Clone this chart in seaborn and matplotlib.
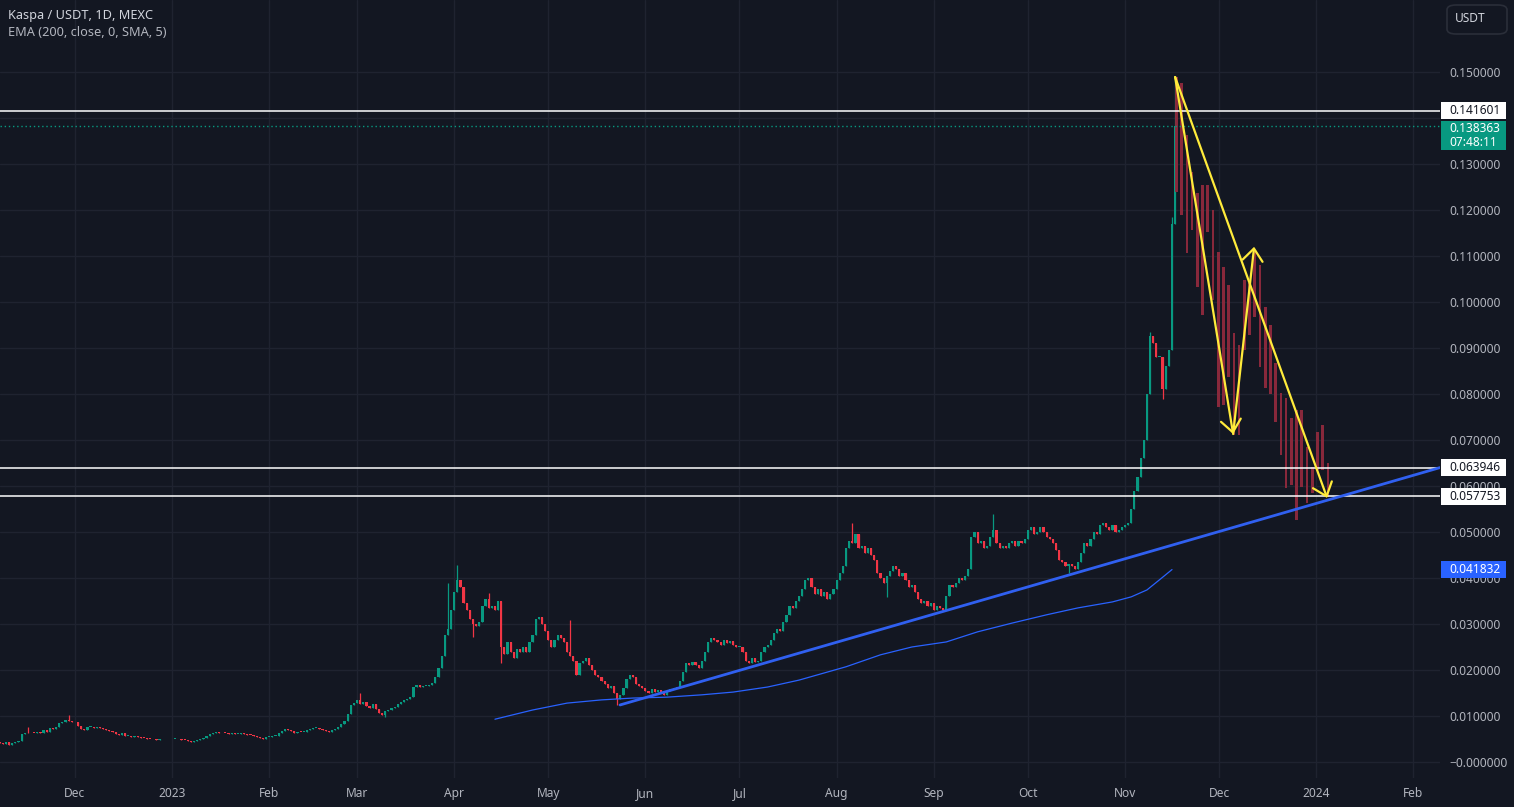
import numpy as np
import pandas as pd
import matplotlib
matplotlib.use("Agg")
import matplotlib.pyplot as plt
import matplotlib.dates as mdates
from matplotlib.patches import Rectangle, FancyBboxPatch
import seaborn as sns

# ---------------- data (prices in thousandths of a USDT) ----------------
START_DATE = "2022-11-07"
FIRST_OPEN = 4.4

close_nov22 = [4.2, 4.0, 4.3, 3.8, 4.1, 4.4, 4.5, 6.0, 6.4, 6.2, 6.4, 6.3, 6.5, 6.2, 7.0, 6.6,
               7.4, 7.2, 7.6, 8.4, 8.8, 9.2, 9.0, 8.8]
close_dec22 = [8.6, 7.9, 7.2, 7.0, 7.6, 7.7, 7.4, 7.5, 7.3, 7.1, 7.0, 6.8, 6.6, 6.0, 5.8, 6.2,
               5.6, 5.7, 5.5, 5.6, 5.4, 5.3, 5.2, 5.1, 5.0, 4.9, 4.8, 5.0, 4.9, 5.0, 4.9]
close_jan23 = [5.0, 5.1, 4.9, 4.8, 4.7, 4.5, 4.4, 4.6, 4.7, 5.0, 5.3, 5.6, 6.0, 6.3, 6.5, 6.2,
               6.4, 6.3, 6.1, 6.2, 6.0, 6.1, 6.3, 6.0, 5.9, 5.8, 5.6, 5.5, 5.3, 5.1, 5.4]
close_feb23 = [5.5, 5.6, 5.7, 6.2, 6.8, 7.2, 7.0, 6.7, 6.4, 6.6, 6.5, 6.6, 6.9, 7.1, 7.3, 7.4,
               7.2, 7.0, 6.8, 6.6, 7.0, 7.2, 7.5, 8.2, 9.0, 10.5, 12.4, 12.8]
close_mar23 = [13.5, 12.6, 13.0, 12.2, 11.8, 12.5, 11.6, 10.6, 10.2, 11.0, 11.2, 11.8, 12.0, 12.6,
               13.0, 13.4, 13.8, 14.2, 16.2, 16.8, 16.2, 16.5, 16.6, 16.8, 17.2, 18.5, 20.5, 23.0,
               27.5, 29.0, 33.0]
close_apr23 = [37.0, 39.5, 38.0, 34.5, 33.0, 31.0, 30.0, 29.5, 30.5, 34.0, 35.5, 33.5, 34.0, 33.0,
               35.0, 25.0, 23.5, 26.0, 24.0, 22.5, 24.5, 24.0, 25.0, 24.0, 26.0, 27.5, 31.0, 31.5,
               30.0, 28.5]
close_may23 = [26.5, 25.0, 26.5, 27.5, 27.0, 26.0, 24.0, 23.0, 22.0, 19.0, 21.5, 22.0, 22.5, 21.0,
               20.0, 19.0, 18.5, 17.5, 17.0, 16.0, 16.5, 15.0, 13.8, 14.5, 16.0, 18.0, 19.0, 18.5,
               17.0, 16.5, 16.0]
close_jun23 = [15.5, 15.0, 15.8, 15.2, 15.6, 15.0, 14.5, 15.5, 15.8, 16.0, 16.3, 17.5, 19.5, 21.5,
               21.0, 21.8, 21.0, 20.5, 22.0, 24.0, 26.0, 27.0, 26.5, 26.0, 25.5, 26.5, 25.8, 26.2,
               25.5, 25.0]
close_jul23 = [25.0, 24.0, 22.0, 21.5, 22.5, 21.8, 22.0, 24.0, 25.0, 25.5, 26.5, 28.0, 29.0, 28.5,
               30.5, 32.0, 34.0, 33.5, 35.0, 36.0, 37.5, 39.5, 40.0, 38.0, 36.5, 37.5, 36.0, 37.0,
               35.5, 36.5, 37.5]
close_aug23 = [39.5, 41.0, 42.5, 46.5, 48.0, 47.5, 49.5, 46.5, 47.0, 45.5, 46.5, 45.0, 44.0, 41.0,
               40.0, 39.0, 40.5, 41.5, 42.5, 42.0, 40.5, 41.0, 39.5, 38.0, 38.5, 37.0, 35.5, 34.5,
               35.0, 34.0, 34.5]
close_sep23 = [33.0, 34.0, 33.5, 33.0, 36.0, 38.5, 38.0, 39.0, 40.0, 39.5, 40.5, 42.0, 49.0, 50.0,
               47.5, 48.0, 46.5, 47.0, 49.0, 50.5, 47.5, 46.5, 47.0, 46.5, 47.5, 48.0, 47.0, 48.0,
               47.5, 48.5]
close_oct23 = [50.5, 51.0, 49.5, 50.0, 51.0, 50.0, 49.0, 48.5, 47.5, 46.0, 44.0, 43.5, 42.5, 43.0,
               42.5, 42.0, 43.5, 45.5, 47.5, 47.0, 48.5, 50.0, 49.5, 51.5, 52.0, 51.0, 50.5, 51.5,
               50.0, 50.5, 51.0]
close_nov23 = [51.5, 52.0, 55.0, 59.0, 62.0, 66.0, 70.0, 80.0, 92.5, 91.0, 88.0, 88.0, 81.0, 86.0,
               89.6, 117.0, 138.363]

# visible wick extremes (date -> value)
wick_high = {"2022-11-16": 7.6, "2022-11-29": 10.2, "2023-03-02": 15.0, "2023-03-30": 38.9,
             "2023-04-02": 42.8, "2023-04-12": 36.7, "2023-05-08": 30.9, "2023-08-06": 52.0,
             "2023-09-20": 54.0, "2023-11-09": 93.5, "2023-11-16": 118.5, "2023-11-17": 149.0}
wick_low = {"2023-03-10": 9.7, "2023-04-07": 27.2, "2023-04-16": 21.5, "2023-05-23": 12.4,
            "2023-08-17": 35.9, "2023-10-14": 41.0, "2023-11-13": 79.0}

# EMA(200)
ema_dates = ["2023-04-14", "2023-04-26", "2023-05-07", "2023-05-18", "2023-05-28", "2023-06-08",
             "2023-06-19", "2023-06-29", "2023-07-10", "2023-07-20", "2023-08-04", "2023-08-15",
             "2023-08-25", "2023-09-05", "2023-09-15", "2023-09-26", "2023-10-07", "2023-10-17",
             "2023-10-28", "2023-11-03", "2023-11-08", "2023-11-12", "2023-11-16"]
ema_vals = [9.3, 11.3, 12.8, 13.5, 13.9, 14.1, 14.6, 15.2, 16.3, 17.8, 20.7, 23.3, 25.0, 26.1,
            28.3, 30.2, 32.0, 33.5, 34.8, 35.9, 37.4, 39.6, 41.832]

# projected (bars pattern) bars: top / bottom
proj_top = [148.9, 147.6, 136.3, 128.3, 123.7, 125.4, 125.4, 120.0, 110.9, 107.6, 103.7, 93.3,
            90.7, 104.8, 104.1, 111.3, 108.0, 98.9, 95.0, 86.7, 80.2, 79.1, 74.8, 76.5, 76.5,
            68.5, 64.1, 71.7, 73.3, 65.0]
proj_bottom = [123.9, 118.9, 110.7, 115.7, 103.3, 97.2, 115.2, 100.4, 77.2, 77.6, 83.7, 71.1,
               71.1, 89.6, 92.8, 96.7, 85.9, 81.3, 80.0, 73.9, 66.7, 59.6, 60.2, 52.6, 59.8,
               56.3, 58.5, 63.5, 63.5, 57.6]

# drawings
trend_dates = ["2023-05-23 22:00", "2024-02-09 12:00"]
trend_vals = [12.4, 64.0]
hline_vals = [141.601, 63.946, 57.753]
last_price = 138.363
countdown = "07:48:11"
ema_last = 41.832
arrow_pts = {"P": ("2023-11-17 00:00", 148.9), "A": ("2023-12-05 12:00", 71.3),
             "B": ("2023-12-12 05:00", 112.0), "C": ("2024-01-04 12:00", 57.4)}
arrows = [("P", "A"), ("A", "B"), ("P", "C")]

month_ticks = ["2022-12-01", "2023-01-01", "2023-02-01", "2023-03-01", "2023-04-01", "2023-05-01",
               "2023-06-01", "2023-07-01", "2023-08-01", "2023-09-01", "2023-10-01", "2023-11-01",
               "2023-12-01", "2024-01-01", "2024-02-01"]
month_labels = ["Dec", "2023", "Feb", "Mar", "Apr", "May", "Jun", "Jul", "Aug", "Sep", "Oct",
                "Nov", "Dec", "2024", "Feb"]
y_ticks_milli = [0, 10, 20, 30, 40, 50, 60, 70, 80, 90, 100, 110, 120, 130, 140, 150]
hidden_tick_milli = [140]  # covered by the price-scale labels in the chart
title_line1 = "Kaspa / USDT, 1D, MEXC"
title_line2 = "EMA (200, close, 0, SMA, 5)"
currency = "USDT"

# ---------------- styling ----------------
BG = "#131722"
GRID = "#1f2330"
UP = "#089981"
DOWN = "#f23645"
GHOST = "#8f2a3d"
YELLOW = "#ffeb3b"
BLUE = "#2962ff"
TXT = "#b2b5be"

sns.set_theme(style="dark", rc={"axes.facecolor": BG, "figure.facecolor": BG})
plt.rcParams["font.family"] = ["Noto Sans", "DejaVu Sans"]
FS = 8.6

W, H = 1514, 807
fig = plt.figure(figsize=(W / 100, H / 100), dpi=100)
ax = fig.add_axes([0, (H - 778) / H, 1440 / W, 778 / H])
ax.set_facecolor(BG)

S = 0.001
close = np.concatenate([close_nov22, close_dec22, close_jan23, close_feb23, close_mar23,
                        close_apr23, close_may23, close_jun23, close_jul23, close_aug23,
                        close_sep23, close_oct23, close_nov23]) * S
dates = pd.date_range(START_DATE, periods=len(close), freq="D")
xs = mdates.date2num(dates)
opens = np.r_[FIRST_OPEN * S, close[:-1]]
highs = np.maximum(opens, close).copy()
lows = np.minimum(opens, close).copy()
idx = {d.strftime("%Y-%m-%d"): i for i, d in enumerate(dates)}
for k, v in wick_high.items():
    highs[idx[k]] = max(highs[idx[k]], v * S)
for k, v in wick_low.items():
    lows[idx[k]] = min(lows[idx[k]], v * S)

up = close >= opens
cols = np.where(up, UP, DOWN)
ax.vlines(xs, lows, highs, colors=cols, lw=0.9, zorder=3)
body_h = np.maximum(np.abs(close - opens), 0.00020)
ax.bar(xs, body_h, bottom=np.minimum(opens, close), width=0.7, color=cols,
       linewidth=0, zorder=4)

# EMA
ema_x = mdates.date2num(pd.to_datetime(ema_dates))
sns.lineplot(x=ema_x, y=np.array(ema_vals) * S, ax=ax, color=BLUE, lw=0.9, zorder=5)

# ghost bars
x0 = mdates.date2num(pd.Timestamp("2023-11-17 10:00"))
step = 1.666
px = x0 + step * np.arange(len(proj_top))
pt = np.array(proj_top) * S
pb = np.array(proj_bottom) * S
ax.bar(px, pt - pb, bottom=pb, width=0.85, color=GHOST, linewidth=0, alpha=0.95, zorder=4)

# horizontal levels
for v in hline_vals:
    ax.axhline(v * S, color="white", lw=1.1, zorder=6)
ax.axhline(last_price * S, color=UP, lw=1.0, ls=(0, (1, 2)), zorder=6)

# trendline
tx = mdates.date2num(pd.to_datetime(trend_dates))
sns.lineplot(x=tx, y=np.array(trend_vals) * S, ax=ax, color="#3060f0", lw=2.0, zorder=7)

# arrows
def pt_of(k):
    d, v = arrow_pts[k]
    return (mdates.date2num(pd.Timestamp(d)), v * S)

for a, b in arrows:
    ax.annotate("", xy=pt_of(b), xytext=pt_of(a),
                arrowprops=dict(arrowstyle="->,head_length=0.55,head_width=0.45",
                                color=YELLOW, lw=1.6, shrinkA=0, shrinkB=0,
                                mutation_scale=16), zorder=8)

# axes limits
ref = pd.Timestamp("2022-12-01")
ax.set_xlim(mdates.date2num(ref - pd.Timedelta(days=23.9)),
            mdates.date2num(ref + pd.Timedelta(days=435.5)))
ax.set_ylim(-3.48 * S, 165.65 * S)

# ticks
def ylab(t):
    if t in hidden_tick_milli:
        return ""
    if t == 0:
        return "\u22120.000000"
    return f"{t * S:.6f}"

ax.yaxis.tick_right()
ax.set_yticks(np.array(y_ticks_milli) * S)
ax.set_yticklabels([ylab(t) for t in y_ticks_milli])
ax.set_xticks(mdates.date2num(pd.to_datetime(month_ticks)))
ax.set_xticklabels(month_labels)
ax.tick_params(axis="y", length=0, pad=6.5, labelsize=FS, labelcolor=TXT)
ax.tick_params(axis="x", length=0, pad=6.5, labelsize=FS, labelcolor=TXT)
ax.grid(True, color=GRID, lw=1.0)
ax.set_axisbelow(True)
for s in ax.spines.values():
    s.set_visible(False)

# labels on price scale
fig.canvas.draw()

def ypix(v):
    # figure pixel y (from bottom) of data value v
    return ax.transData.transform((0, v))[1]

def scale_box(v, text, fc, tc, bold=False, h=17):
    yc = ypix(v)
    fig.patches.append(Rectangle((1441 / W, (yc - h / 2) / H), 65 / W, h / H,
                                 transform=fig.transFigure, facecolor=fc, edgecolor="none",
                                 zorder=20))
    fig.text(1449 / W, yc / H, text, color=tc, fontsize=FS, va="center",
             ha="left", fontweight="bold" if bold else "normal", zorder=21)

scale_box(hline_vals[0] * S, f"{hline_vals[0] * S:.6f}", "white", BG)
scale_box(hline_vals[1] * S, f"{hline_vals[1] * S:.6f}", "white", BG)
scale_box(hline_vals[2] * S, f"{hline_vals[2] * S:.6f}", "white", BG)
scale_box(ema_last * S, f"{ema_last * S:.6f}", BLUE, "white", bold=True)

# last price box (two lines)
yc = ypix(last_price * S)
top = yc + 5
fig.patches.append(Rectangle((1441 / W, (top - 29) / H), 65 / W, 29 / H,
                             transform=fig.transFigure, facecolor=UP, edgecolor="none",
                             zorder=20))
fig.text(1449 / W, (top - 8) / H, f"{last_price * S:.6f}", color="white", fontsize=FS,
         va="center", ha="left", fontweight="bold", zorder=21)
fig.text(1449 / W, (top - 22) / H, countdown, color="white", fontsize=FS,
         va="center", ha="left", zorder=21)

# currency button
fig.patches.append(FancyBboxPatch((1447 / W, (H - 34) / H), 60 / W, 29 / H,
                                  boxstyle="round,pad=0,rounding_size=0.006",
                                  transform=fig.transFigure, facecolor=BG,
                                  edgecolor="#2a2e39", lw=1.2, zorder=20))
fig.text(1455 / W, (H - 19) / H, currency, color="#d1d4dc", fontsize=FS, va="center",
         ha="left", zorder=21)

# legend texts
fig.text(8 / W, (H - 16) / H, title_line1, color="#d1d4dc", fontsize=9.2,
         fontweight="bold", va="center", ha="left")
fig.text(8 / W, (H - 33) / H, title_line2, color=TXT, fontsize=9.2, va="center", ha="left")

fig.savefig("out.png", dpi=100, facecolor=BG)
